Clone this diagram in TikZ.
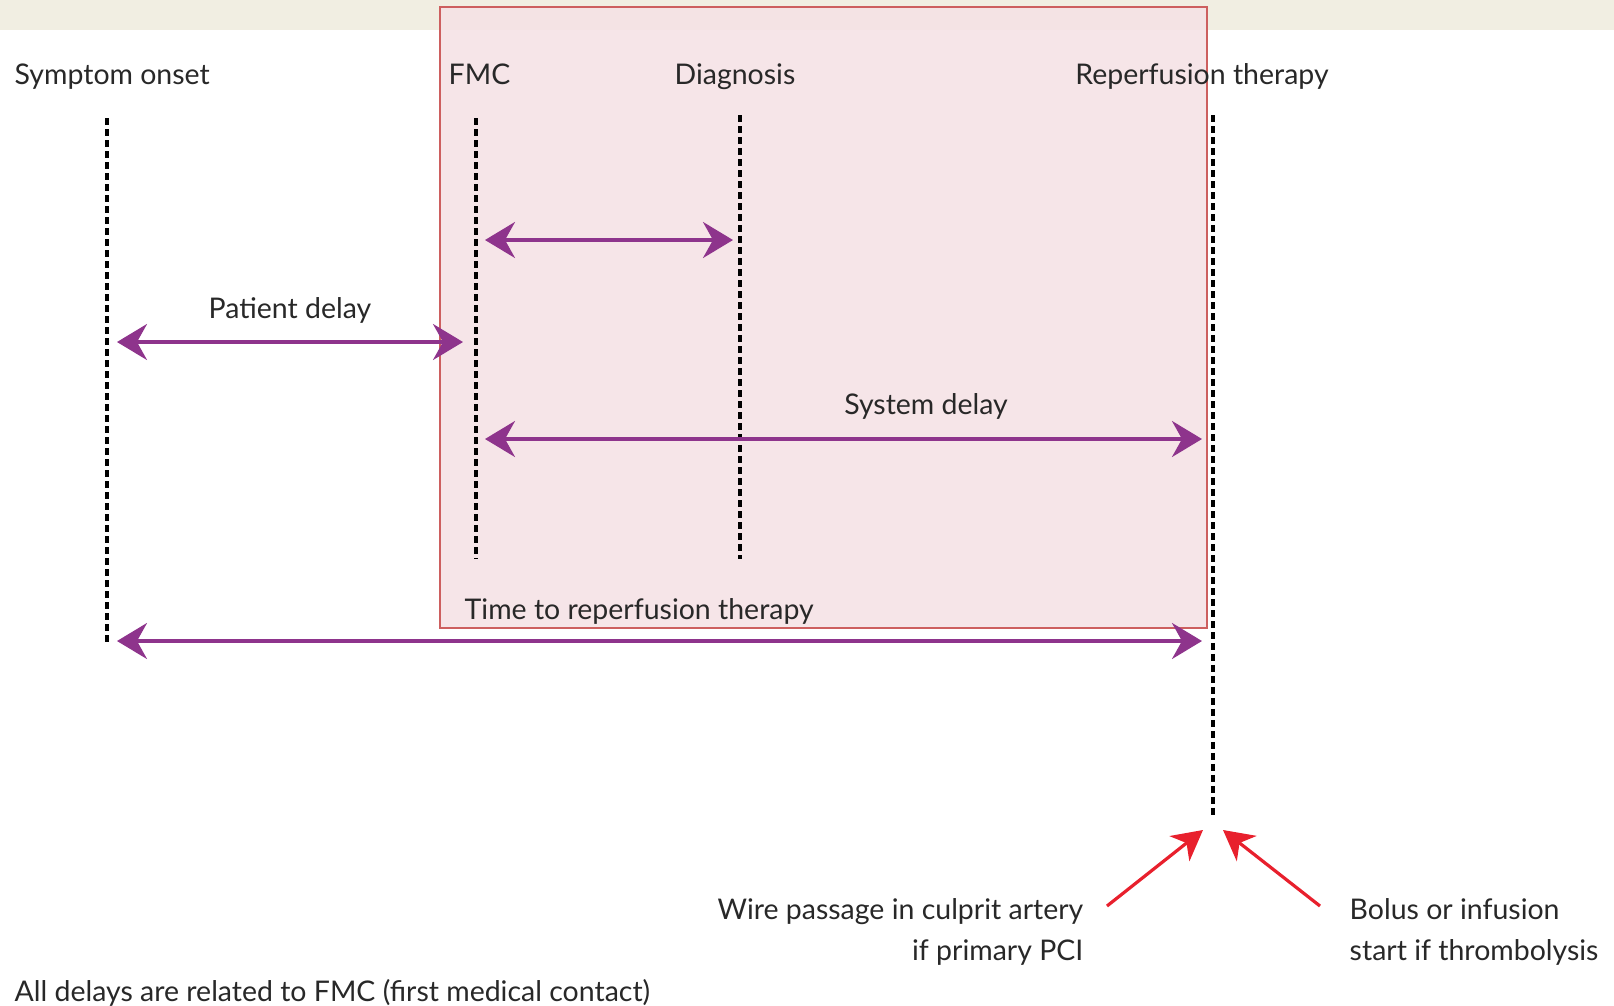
\documentclass[tikz,border=0pt]{standalone}
\usepackage{fontspec}
\setmainfont{Lato}
\usepackage{tikz}
\usetikzlibrary{arrows.meta}

\definecolor{delaypurple}{RGB}{142,52,140}
\definecolor{wirered}{RGB}{232,32,45}
\definecolor{boxpink}{RGB}{245,226,229}
\definecolor{boxedge}{RGB}{205,95,95}
\definecolor{bandtan}{RGB}{241,238,226}
\definecolor{labelgray}{RGB}{40,40,40}

\tikzset{
  timeline/.style={black,line width=0.34mm,dash pattern=on 0.7mm off 0.4mm},
  delay/.style={delaypurple,line width=0.32mm,
    {Stealth[length=3mm,width=3.6mm,inset=1mm]}-{Stealth[length=3mm,width=3.6mm,inset=1mm]}},
  pointer/.style={wirered,line width=0.32mm,-{Stealth[length=3mm,width=3.2mm,inset=0.9mm]}},
  lbl/.style={text=labelgray,inner sep=0pt,font=\fontsize{8.1}{11.6}\selectfont}
}

\begin{document}
\begin{tikzpicture}[x=0.1mm,y=-0.1mm]
\useasboundingbox (0,0) rectangle (1614,1006);

\fill[bandtan] (0,0) rectangle (1614,30);
\draw[boxedge,line width=0.25mm,fill=boxpink,fill opacity=0.9] (440,7) rectangle (1207,628);

\node[lbl,anchor=base west] (onset) at (14,84) {Symptom onset};
\node[lbl,anchor=base west] (fmc) at (448,84) {FMC};
\node[lbl,anchor=base] (diag) at (735,84) {Diagnosis};
\node[lbl,anchor=base] (reperf) at (1202,84) {Reperfusion therapy};

\coordinate (onsetT) at (107,118);
\coordinate (onsetB) at (107,643);
\coordinate (fmcT) at (476,118);
\coordinate (fmcB) at (476,559);
\coordinate (diagT) at (740,115);
\coordinate (diagB) at (740,559);
\coordinate (reperfT) at (1213,115);
\coordinate (reperfB) at (1213,815);

\draw[timeline] (onsetT) -- (onsetB);
\draw[timeline] (fmcT) -- (fmcB);
\draw[timeline] (diagT) -- (diagB);
\draw[timeline] (reperfT) -- (reperfB);

\coordinate (fdL) at (485,240);
\coordinate (fdR) at (733,240);
\coordinate (pdL) at (117,342);
\coordinate (pdR) at (463,342);
\coordinate (sdL) at (485,439);
\coordinate (sdR) at (1202,439);
\coordinate (trL) at (117,641);
\coordinate (trR) at (1202,641);

\draw[delay] (fdL) -- (fdR);
\draw[delay] (pdL) -- (pdR);
\draw[delay] (sdL) -- (sdR);
\draw[delay] (trL) -- (trR);

\node[lbl,anchor=base] (pdlbl) at (290,318) {Patient delay};
\node[lbl,anchor=base] (sdlbl) at (926,414) {System delay};
\node[lbl,anchor=base west] (trlbl) at (464,619) {Time to reperfusion therapy};

\coordinate (wireS) at (1107,906);
\coordinate (wireE) at (1203,830);
\coordinate (bolusS) at (1320,906);
\coordinate (bolusE) at (1223,830);
\draw[pointer] (wireS) -- (wireE);
\draw[pointer] (bolusS) -- (bolusE);

\node[lbl,anchor=north east,align=right] (wire) at (1084,898)
  {Wire passage in culprit artery\\if primary PCI};
\node[lbl,anchor=north west,align=left] (bolus) at (1349,898)
  {Bolus or infusion\\start if thrombolysis};

\node[lbl,anchor=base west] (note) at (14,1001)
  {All delays are related to FMC (first medical contact)};
\end{tikzpicture}
\end{document}
